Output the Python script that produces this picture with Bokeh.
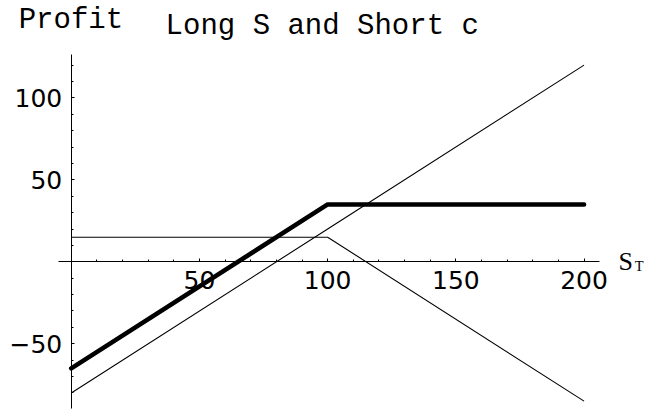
from bokeh.plotting import figure
from bokeh.models import LinearAxis, SingleIntervalTicker, Label
from bokeh.embed import file_html
from bokeh.resources import INLINE

# Profit at expiry for a long stock (bought at 80) and a short call (K=100, premium 15)
s_grid = [0, 100, 200]
long_stock = [-80, 20, 120]
short_call = [15, 15, -85]
combined = [-65, 35, 35]

x_ticks_interval = 50
y_ticks_interval = 50

# The frame fills the whole canvas; axis extents are limited with bounds
p = figure(width=652, height=410, output_backend="svg", toolbar_location=None,
           x_range=(-27.6, 226.7), y_range=(-90.7, 159.4),
           x_axis_type=None, y_axis_type=None, min_border=0)
p.outline_line_color = None
p.background_fill_color = "white"
p.border_fill_color = "white"

tick_font = "DejaVu Sans"

xaxis = LinearAxis(fixed_location=0, bounds=(-5, 206),
                   ticker=SingleIntervalTicker(interval=x_ticks_interval, num_minor_ticks=5),
                   major_tick_in=3, major_tick_out=0, minor_tick_in=2, minor_tick_out=0,
                   major_label_overrides={0: ""}, major_label_standoff=9,
                   major_label_text_font=tick_font, major_label_text_font_size="25px",
                   major_label_text_color="black", axis_line_color="black",
                   major_tick_line_color="black", minor_tick_line_color="black")
xaxis.level = "underlay"
p.add_layout(xaxis, "below")

yaxis = LinearAxis(fixed_location=0, bounds=(-89.5, 126.5),
                   ticker=SingleIntervalTicker(interval=y_ticks_interval, num_minor_ticks=5),
                   major_tick_in=3, major_tick_out=0, minor_tick_in=2, minor_tick_out=0,
                   major_label_overrides={0: ""}, major_label_standoff=9,
                   major_label_text_font=tick_font, major_label_text_font_size="25px",
                   major_label_text_color="black", axis_line_color="black",
                   major_tick_line_color="black", minor_tick_line_color="black")
yaxis.level = "underlay"
p.add_layout(yaxis, "left")

p.line(s_grid, long_stock, line_color="black", line_width=1.1)
p.line(s_grid, short_call, line_color="black", line_width=1.1)
p.line(s_grid, combined, line_color="black", line_width=4.6, line_cap="round", line_join="round")

mono = "Liberation Mono"
p.add_layout(Label(x=36.8, y=143.3, text="Long S and Short c", text_font=mono,
                   text_font_size="29px", text_baseline="alphabetic", text_color="black"))
p.add_layout(Label(x=-20.5, y=147.5, text="Profit", text_font=mono,
                   text_font_size="29px", text_baseline="alphabetic", text_color="black"))
p.add_layout(Label(x=213.4, y=-0.1, text="S", text_font="Liberation Serif",
                   text_font_size="26px", text_baseline="alphabetic", text_color="black"))
p.add_layout(Label(x=219.8, y=-2.7, text="T", text_font="Liberation Serif",
                   text_font_size="14.5px", text_baseline="alphabetic", text_color="black"))

open("out.html", "w").write(file_html(p, INLINE))
